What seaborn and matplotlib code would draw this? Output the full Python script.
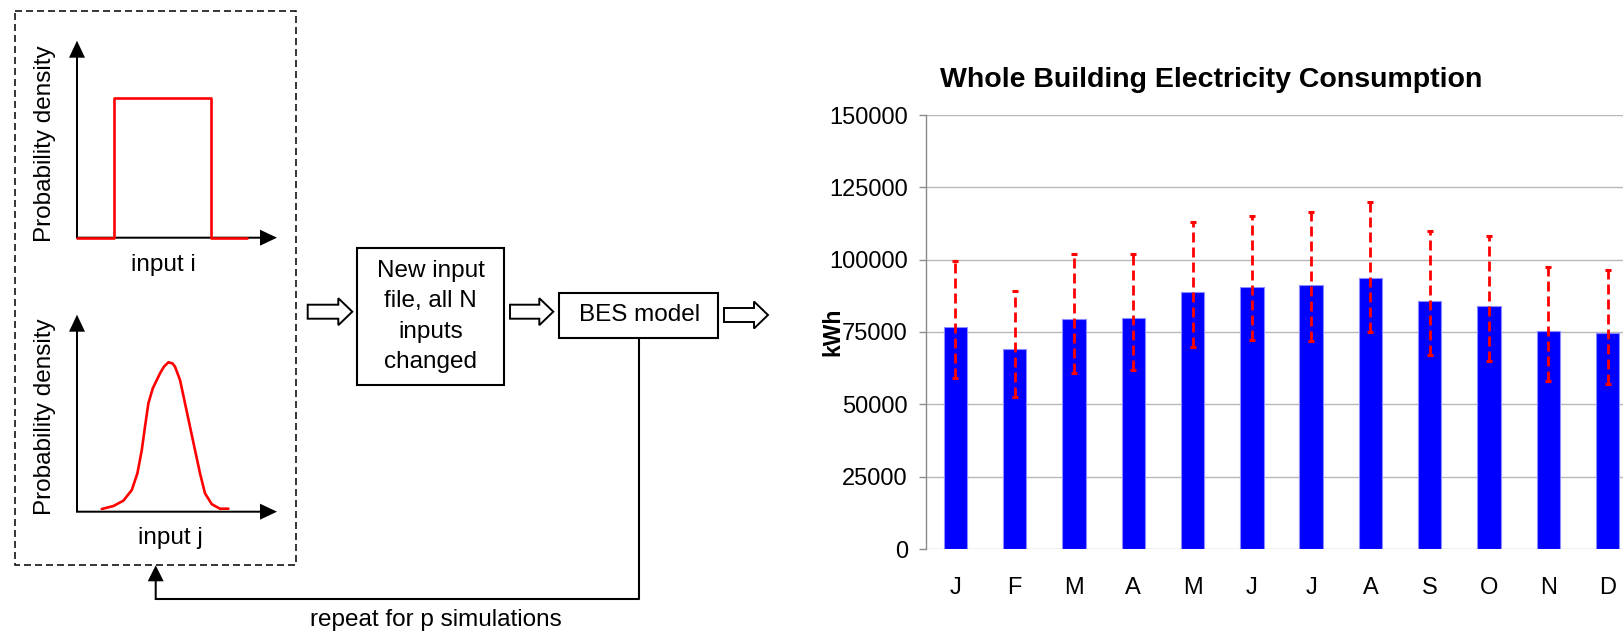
import numpy as np
import pandas as pd
import seaborn as sns
import matplotlib.pyplot as plt
from matplotlib.patches import Rectangle, FancyArrow

# monthly whole-building electricity (kWh)
months = ['Jan', 'Feb', 'Mar', 'Apr', 'May', 'Jun', 'Jul', 'Aug', 'Sep', 'Oct', 'Nov', 'Dec']
month_labels = ['J', 'F', 'M', 'A', 'M', 'J', 'J', 'A', 'S', 'O', 'N', 'D']
kwh_mean = [76900, 69100, 79500, 80000, 88700, 90600, 91100, 93800, 85700, 84100, 75500, 74600]
kwh_low = [59100, 52700, 60900, 62000, 69700, 72300, 72000, 75100, 67100, 65100, 58100, 57100]
kwh_high = [99400, 89200, 101900, 101900, 113000, 115200, 116600, 119800, 110000, 108100, 97300, 96500]
y_ticks = [0, 25000, 50000, 75000, 100000, 125000, 150000]

# sketch of the two input distributions (relative density)
uniform_x = [0.0, 0.185, 0.185, 0.67, 0.67, 0.85]
uniform_y = [0, 0, 1, 1, 0, 0]
bell_x = [0.124, 0.182, 0.232, 0.274, 0.302, 0.324, 0.340, 0.357, 0.379, 0.415, 0.435, 0.457,
          0.477, 0.490, 0.515, 0.540, 0.565, 0.590, 0.615, 0.640, 0.674, 0.715, 0.757]
bell_y = [0.018, 0.038, 0.074, 0.145, 0.257, 0.413, 0.569, 0.726, 0.826, 0.926, 0.971, 1.0,
          0.993, 0.971, 0.882, 0.726, 0.569, 0.413, 0.257, 0.123, 0.050, 0.020, 0.020]

W, H = 1624, 633
FONT = 17.5


def px_box(x0, y0, x1, y1):
    return [x0 / W, 1 - y1 / H, (x1 - x0) / W, (y1 - y0) / H]


sns.set_theme(style='white')
plt.rcParams['font.family'] = ['Liberation Sans', 'DejaVu Sans']
plt.rcParams['text.color'] = 'black'
plt.rcParams['axes.labelcolor'] = 'black'
plt.rcParams['xtick.color'] = 'black'
plt.rcParams['ytick.color'] = 'black'

fig = plt.figure(figsize=(W / 100, H / 100), dpi=100)

# ---- flow diagram, drawn in pixel units ----
diag = fig.add_axes([0, 0, 1, 1])
diag.set_xlim(0, W)
diag.set_ylim(H, 0)
diag.axis('off')

diag.add_patch(Rectangle((15, 11), 281, 554.3, fill=False, ec='black', lw=1.1,
                         ls=(0, (4.6, 2.6))))

def axis_arrow(x, y, dx, dy):
    diag.add_patch(FancyArrow(x, y, dx, dy, width=2, head_width=16, head_length=17,
                              length_includes_head=True, color='black', lw=0))

def hollow_arrow(x, y, length):
    diag.add_patch(FancyArrow(x, y, length, 0, width=14, head_width=27, head_length=14,
                              length_includes_head=True, fc='white', ec='black', lw=1.4))

for base in (237.7, 511.7):
    axis_arrow(77, base, 0, -197)
    axis_arrow(76, base, 201, 0)

for yc in (144, 417):
    diag.text(45, yc, 'Probability density', rotation=90, ha='center', va='center', fontsize=FONT)
diag.text(163, 265, 'input i', ha='center', va='center', fontsize=FONT)
diag.text(170, 538, 'input j', ha='center', va='center', fontsize=FONT)

hollow_arrow(307.7, 311.7, 44.6)
diag.add_patch(Rectangle((357.3, 248.3), 146.7, 136.7, fill=False, ec='black', lw=1.5))
for i, line in enumerate(['New input', 'file, all N', 'inputs', 'changed']):
    diag.text(430.7, 270.7 + 30.5 * i, line, ha='center', va='center', fontsize=FONT)

hollow_arrow(510, 311.7, 43.3)
diag.add_patch(Rectangle((559, 292.7), 159.3, 45, fill=False, ec='black', lw=1.5))
diag.text(639.3, 315, 'BES model', ha='center', va='center', fontsize=FONT)
hollow_arrow(724, 315, 44)

diag.plot([639, 639, 155.7], [337.7, 599, 599], color='black', lw=1.5, solid_capstyle='butt')
diag.add_patch(FancyArrow(155.7, 600, 0, -34.7, width=2, head_width=16, head_length=16,
                          length_includes_head=True, color='black', lw=0))
diag.text(436, 620, 'repeat for p simulations', ha='center', va='center', fontsize=FONT)

# density sketches
ax_u = fig.add_axes(px_box(77, 40.7, 277, 237.7))
ax_u.plot(uniform_x, uniform_y, color='red', lw=1.9, clip_on=False, zorder=5)
ax_u.set_xlim(0, 1)
ax_u.set_ylim(0, 1.407)
ax_u.axis('off')

ax_n = fig.add_axes(px_box(77, 315, 277, 511.7))
ax_n.plot(bell_x, bell_y, color='red', lw=1.9, clip_on=False, zorder=5,
          solid_joinstyle='round')
ax_n.set_xlim(0, 1)
ax_n.set_ylim(0, 1.3166)
ax_n.axis('off')

# ---- bar chart ----
ax = fig.add_axes(px_box(925.7, 115, 925.7 + 12 * 59.3, 549))
df = pd.DataFrame({'month': months, 'kwh': kwh_mean})
sns.barplot(data=df, x='month', y='kwh', color='#0000ff', saturation=1, width=0.396,
            edgecolor='#8c8cff', linewidth=0.8, errorbar=None, ax=ax)

mean = np.array(kwh_mean)
err = [mean - np.array(kwh_low), np.array(kwh_high) - mean]
eb = ax.errorbar(np.arange(len(months)), mean, yerr=err, fmt='none', ecolor='red',
                 elinewidth=2.0, capsize=2, capthick=2.2, zorder=5)
eb[2][0].set_linestyle((0, (3.6, 1.8)))

ax.set_xlim(-0.5, 11.5)
ax.set_ylim(0, 150000)
ax.set_yticks(y_ticks)
ax.set_yticklabels([str(t) for t in y_ticks], fontsize=17)
ax.set_xticks(range(len(months)))
ax.set_xticklabels(month_labels, fontsize=17)
ax.set_xlabel('')
ax.set_ylabel('kWh', fontsize=16.5, fontweight='bold')
ax.yaxis.set_label_coords(-0.1148, 0.5)

ax.set_axisbelow(True)
ax.grid(axis='y', color='#b8b8b8', lw=1.0)
ax.grid(axis='x', visible=False)
for side in ('top', 'right', 'bottom'):
    ax.spines[side].set_visible(False)
ax.spines['left'].set_color('#8a8a8a')
ax.spines['left'].set_linewidth(1.0)
ax.tick_params(axis='y', left=True, length=5.3, width=1.0, color='#8a8a8a', pad=7.5)
ax.tick_params(axis='x', bottom=False, length=0, pad=20)

fig.text(1211 / W, 1 - 87.3 / H, 'Whole Building Electricity Consumption',
         ha='center', va='baseline', fontsize=20.5, fontweight='bold')

fig.savefig('out.png', dpi=100)
